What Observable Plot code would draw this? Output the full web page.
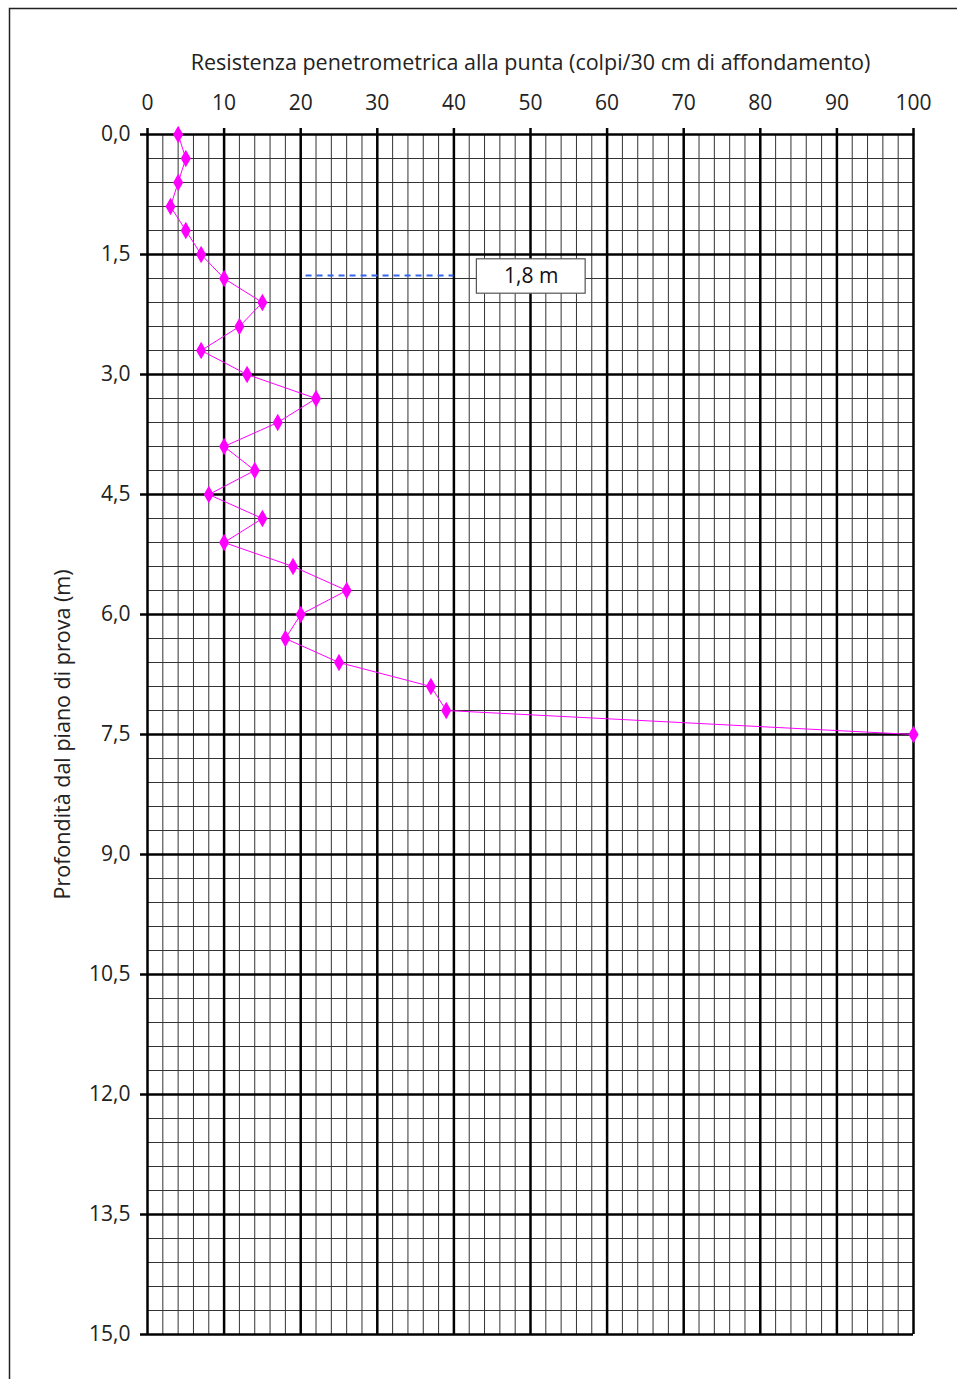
<!DOCTYPE html>
<html>
<head>
<meta charset="utf-8">
<script src="https://cdn.jsdelivr.net/npm/d3@7"></script>
<script src="https://cdn.jsdelivr.net/npm/@observablehq/plot@0.6"></script>
<style>
  html, body { margin: 0; padding: 0; background: #fff; }
  #chart svg { display: block; }
</style>
</head>
<body>
<div id="chart"></div>
<script>
// Data: depth (m) vs blows per 30 cm
const depths = [0.0, 0.3, 0.6, 0.9, 1.2, 1.5, 1.8, 2.1, 2.4, 2.7, 3.0, 3.3, 3.6, 3.9, 4.2, 4.5, 4.8, 5.1, 5.4, 5.7, 6.0, 6.3, 6.6, 6.9, 7.2, 7.5];
const colpi  = [4, 5, 4, 3, 5, 7, 10, 15, 12, 7, 13, 22, 17, 10, 14, 8, 15, 10, 19, 26, 20, 18, 25, 37, 39, 100];
const xTicks = [0, 10, 20, 30, 40, 50, 60, 70, 80, 90, 100];
const yTicks = [0, 1.5, 3, 4.5, 6, 7.5, 9, 10.5, 12, 13.5, 15];
const yTickLabels = ["0,0", "1,5", "3,0", "4,5", "6,0", "7,5", "9,0", "10,5", "12,0", "13,5", "15,0"];
const waterDepth = [1.8];
const waterFrom = [20.7];
const waterTo = [40];
const waterLabel = ["1,8 m"];
const xTitle = "Resistenza penetrometrica alla punta (colpi/30 cm di affondamento)";
const yTitle = "Profondità dal piano di prova (m)";

const data = depths.map((d, i) => ({depth: d, colpi: colpi[i]}));
const minorX = d3.range(0, 101, 2);
const minorY = d3.range(0, 15.0001, 0.3).map(v => +v.toFixed(1));
const water = waterDepth.map((d, i) => ({depth: d, x1: waterFrom[i], x2: waterTo[i], label: waterLabel[i]}));

const font = "'Open Sans', 'DejaVu Sans', sans-serif";

const plot = Plot.plot({
  width: 957,
  height: 1379,
  marginLeft: 147,
  marginRight: 44,
  marginTop: 134,
  marginBottom: 45,
  style: {fontFamily: font, fontSize: "21px", color: "#222", background: "#fff"},
  x: {domain: [0, 100]},
  y: {domain: [0, 15], reverse: true},
  marks: [
    Plot.ruleX(minorX, {x: d => d, y1: 0, y2: 15, stroke: "#333", strokeWidth: 1}),
    Plot.ruleY(minorY, {y: d => d, x1: 0, x2: 100, stroke: "#333", strokeWidth: 1}),
    Plot.ruleX(xTicks, {x: d => d, y1: 0, y2: 15, stroke: "#000", strokeWidth: 2.5}),
    Plot.ruleY(yTicks, {y: d => d, x1: 0, x2: 100, stroke: "#000", strokeWidth: 2.5}),
    Plot.axisX(xTicks, {anchor: "top", tickSize: 7, tickPadding: 18, tickFormat: d => String(d), label: null, fontSize: 21, stroke: "#000", strokeWidth: 2.5, fill: "#222"}),
    Plot.axisY(yTicks, {anchor: "left", tickSize: 7, tickPadding: 10, tickFormat: d => yTickLabels[yTicks.indexOf(d)], label: null, fontSize: 21, stroke: "#000", strokeWidth: 2.5, fill: "#222"}),
    Plot.ruleY(water, {y: "depth", x1: "x1", x2: "x2", dy: -3, stroke: "#3366ee", strokeWidth: 2, strokeDasharray: "6,5"}),
    Plot.rect(water, {x1: d => d.x2 + 3, x2: d => d.x2 + 17.2, y1: d => d.depth - 0.24, y2: d => d.depth + 0.19, fill: "#fff", stroke: "#555", strokeWidth: 1.2}),
    Plot.text(water, {x: d => d.x2 + 10.1, y: d => d.depth - 0.03, text: "label", fontSize: 21, fill: "#111"}),
    Plot.line(data, {x: "colpi", y: "depth", stroke: "#ff00ff", strokeWidth: 1}),
    Plot.dot(data, {x: "colpi", y: "depth", symbol: "diamond", r: 5.3, fill: "#ff00ff", stroke: "none"}),
    Plot.text([xTitle], {frameAnchor: "top", dy: -80, text: d => d, fontSize: 21.5, fill: "#222"}),
    Plot.text([yTitle], {frameAnchor: "left", dx: -84, rotate: -90, textAnchor: "middle", text: d => d, fontSize: 21.5, fill: "#222"})
  ]
});

// outer page frame
d3.select(plot).append("rect")
  .attr("x", 9.5).attr("y", 8.5)
  .attr("width", 1000).attr("height", 1400)
  .attr("fill", "none").attr("stroke", "#222").attr("stroke-width", 1.5);

document.getElementById("chart").appendChild(plot);
</script>
</body>
</html>
